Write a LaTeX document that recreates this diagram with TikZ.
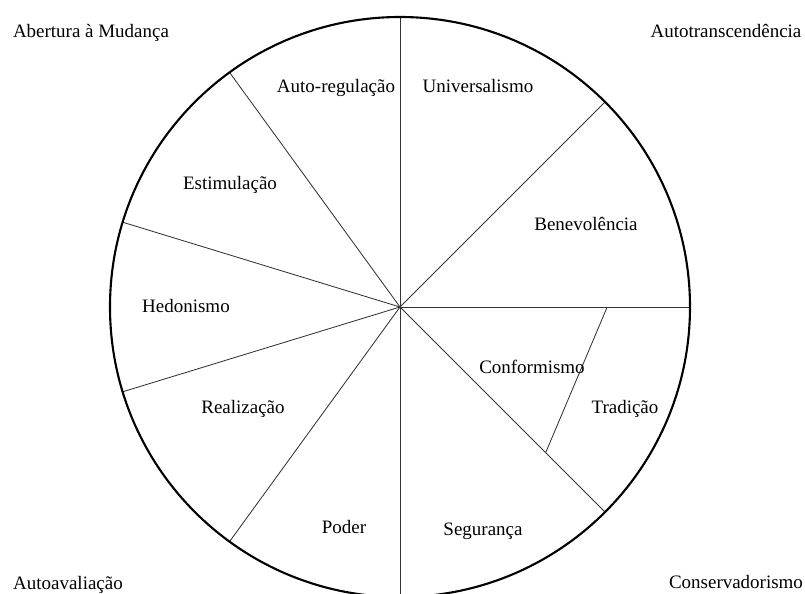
\documentclass[tikz,border=0pt]{standalone}
\usepackage{fontspec}
\setmainfont{Liberation Serif}
\usepackage{tikz}
\newcommand{\valuefont}{\fontsize{13.5}{16}\selectfont}
\tikzset{
  % style of the outer circle
  rim/.style={black, line width=1.5pt},
  % style of the lines from the centre
  spoke/.style={black!80, line width=0.6pt},
  % style of the value names
  value/.style={font=\valuefont, text height=1.6ex, text depth=.35ex, inner sep=0pt},
}

\begin{document}
\begin{tikzpicture}
  \useasboundingbox (-10,-7.15) rectangle (10.125,7.675);
  \clip (-10,-7.15) rectangle (10.125,7.675);
  \coordinate (c) at (0,0);
  % Draw the spokes
  \foreach \angle in {90, 45, 0, -45, -90, 126, 163, 197, 234} {
    \draw[spoke] (c) -- (\angle:7.25cm);
  }
  % Draw the chord between Conformismo and Tradição
  \coordinate (t1) at (0:5.18cm);
  \coordinate (t2) at (-45:5.15cm);
  \draw[spoke] (t1) -- (t2);
  % Draw the outer circle
  \draw[rim] (c) circle (7.25cm);
  % the values
  \node[value] (autoreg) at (-1.6,5.475) {Auto-regulação};
  \node[value] (univ) at (1.95,5.475) {Universalismo};
  \node[value] (estim) at (-4.25,3.05) {Estimulação};
  \node[value] (benev) at (4.65,2.025) {Benevolência};
  \node[value] (hedon) at (-5.35,-0.025) {Hedonismo};
  \node[value] (realiz) at (-3.925,-2.55) {Realização};
  \node[value] (conform) at (3.3,-1.55) {Conformismo};
  \node[value] (trad) at (5.625,-2.55) {Tradição};
  \node[value] (poder) at (-1.4,-5.55) {Poder};
  \node[value] (segur) at (2.075,-5.6) {Segurança};
  % the four corners
  \node[value] (abert) at (-7.725,6.85) {Abertura à Mudança};
  \node[value] (transc) at (8.15,6.85) {Autotranscendência};
  \node[value] (aval) at (-8.3,-6.95) {Autoavaliação};
  \node[value] (conserv) at (8.4,-6.925) {Conservadorismo};
\end{tikzpicture}
\end{document}
